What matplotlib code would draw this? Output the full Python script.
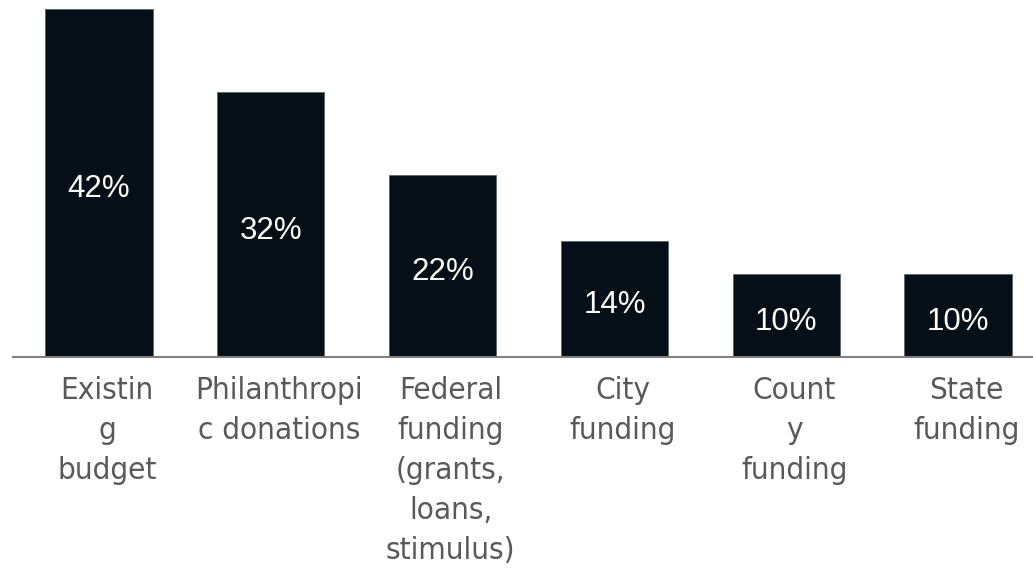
import matplotlib
matplotlib.use('Agg')
import matplotlib.pyplot as plt
import matplotlib.transforms as mtransforms

# Dados do gráfico
categorias = ["Existin\ng\nbudget", "Philanthropi\nc donations",
              "Federal\nfunding\n(grants,\nloans,\nstimulus)", "City\nfunding",
              "Count\ny\nfunding", "State\nfunding"]
valores = [42, 32, 22, 14, 10, 10]
rotulos = ["42%", "32%", "22%", "14%", "10%", "10%"]

fig = plt.figure(figsize=(10.33, 5.71), dpi=100)
ax = fig.add_axes([13 / 1033, 1 - 357 / 571, 1031 / 1033, 348 / 571])

x = range(len(valores))
barras = ax.bar(x, valores, width=0.625, color='#050f18', edgecolor='#5a6670', linewidth=0.6)

for b, r in zip(barras, rotulos):
    ax.annotate(r, (b.get_x() + b.get_width() / 2, b.get_height() / 2),
                xytext=(0, -4.5), textcoords='offset points',
                ha='center', va='center', color='white', fontsize=22.5,
                family='Liberation Sans')

ax.set_xlim(-0.5, 5.5)
ax.set_ylim(0, 42)
ax.set_yticks([])
ax.set_xticks(list(x))
ax.set_xticklabels(categorias, fontsize=22.5, color='#595959',
                   family='DejaVu Sans', fontstretch='condensed', linespacing=1.47)
ax.tick_params(axis='x', length=0, pad=14)

# rótulos levemente deslocados para a direita, como no original
desloc = mtransforms.ScaledTranslation(8 / 100, 0, fig.dpi_scale_trans)
for lbl in ax.get_xticklabels():
    lbl.set_transform(lbl.get_transform() + desloc)

for lado in ['top', 'right', 'left']:
    ax.spines[lado].set_visible(False)
ax.spines['bottom'].set_color('#808080')
ax.spines['bottom'].set_linewidth(1.5)

plt.savefig("out.png", dpi=100)
